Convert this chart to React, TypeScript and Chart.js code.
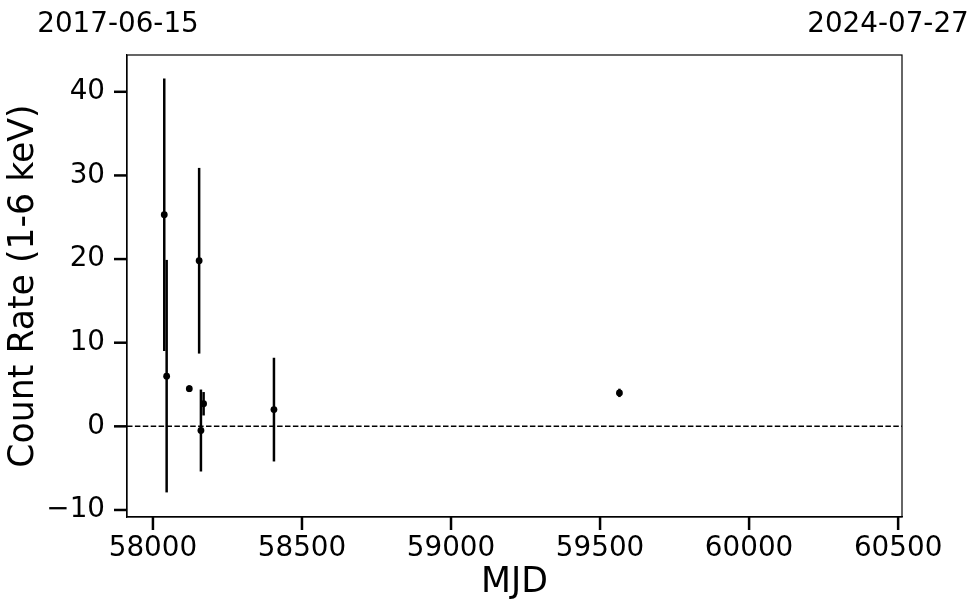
import React, { useEffect, useRef } from "react";
import { Chart, registerables } from "chart.js";

Chart.register(...registerables);

const MJD = [58038, 58046, 58122, 58155, 58161, 58170, 58406, 59565];
const RATE = [25.3, 6.0, 4.5, 19.8, -0.5, 2.7, 2.0, 4.0];
const ERR = [16.3, 13.9, 0.4, 11.1, 4.9, 1.4, 6.2, 0.5];
const X_TICKS = [58000, 58500, 59000, 59500, 60000, 60500];
const Y_TICKS = [-10, 0, 10, 20, 30, 40];
const DATE_LABELS = ["2017-06-15", "2024-07-27"];
const X_RANGE = [57913, 60513];
const Y_RANGE = [-10.84, 44.4];

const FONT = "'DejaVu Sans', sans-serif";
const TICK_LEN = 13;

const overlayPlugin = {
  id: "overlay",
  beforeDatasetsDraw(chart: any) {
    const { ctx, chartArea, scales } = chart;
    const y0 = scales.y.getPixelForValue(0);
    ctx.save();
    ctx.beginPath();
    ctx.rect(chartArea.left, chartArea.top, chartArea.right - chartArea.left, chartArea.bottom - chartArea.top);
    ctx.clip();
    ctx.strokeStyle = "#000";
    ctx.lineWidth = 1.5;
    ctx.setLineDash([5.5, 2.4]);
    ctx.beginPath();
    ctx.moveTo(chartArea.left, y0);
    ctx.lineTo(chartArea.right, y0);
    ctx.stroke();
    ctx.setLineDash([]);
    ctx.lineWidth = 2.5;
    for (let i = 0; i < MJD.length; i++) {
      const x = scales.x.getPixelForValue(MJD[i]);
      const yt = scales.y.getPixelForValue(RATE[i] + ERR[i]);
      const yb = scales.y.getPixelForValue(RATE[i] - ERR[i]);
      ctx.beginPath();
      ctx.moveTo(x, yt);
      ctx.lineTo(x, yb);
      ctx.stroke();
    }
    ctx.restore();
  },
  afterDraw(chart: any) {
    const { ctx, chartArea, scales } = chart;
    ctx.save();
    ctx.strokeStyle = "#000";
    ctx.lineWidth = 1.2;
    ctx.strokeRect(chartArea.left, chartArea.top, chartArea.right - chartArea.left, chartArea.bottom - chartArea.top);
    ctx.lineWidth = 2.5;
    for (const v of X_TICKS) {
      const x = scales.x.getPixelForValue(v);
      ctx.beginPath();
      ctx.moveTo(x, chartArea.bottom);
      ctx.lineTo(x, chartArea.bottom + TICK_LEN);
      ctx.stroke();
    }
    for (const v of Y_TICKS) {
      const y = scales.y.getPixelForValue(v);
      ctx.beginPath();
      ctx.moveTo(chartArea.left, y);
      ctx.lineTo(chartArea.left - TICK_LEN, y);
      ctx.stroke();
    }
    ctx.fillStyle = "#000";
    ctx.font = `27.8px ${FONT}`;
    ctx.textBaseline = "alphabetic";
    ctx.textAlign = "center";
    ctx.fillText(DATE_LABELS[0], 118, 32);
    ctx.fillText(DATE_LABELS[1], 888, 32);
    ctx.restore();
  },
};

export default function App() {
  const ref = useRef<HTMLCanvasElement | null>(null);
  useEffect(() => {
    if (!ref.current) return;
    const chart = new Chart(ref.current, {
      type: "scatter",
      data: {
        datasets: [
          {
            data: MJD.map((m, i) => ({ x: m, y: RATE[i] })),
            backgroundColor: "#000",
            borderColor: "#000",
            pointRadius: 3.4,
            pointHoverRadius: 3.4,
            borderWidth: 0,
          },
        ],
      },
      options: {
        animation: false,
        responsive: false,
        devicePixelRatio: 1,
        layout: { padding: { top: 55, right: 78, left: 0, bottom: 0 } },
        plugins: { legend: { display: false }, tooltip: { enabled: false } },
        scales: {
          x: {
            type: "linear",
            min: X_RANGE[0],
            max: X_RANGE[1],
            afterBuildTicks: (s: any) => {
              s.ticks = X_TICKS.map((v) => ({ value: v }));
            },
            afterFit: (s: any) => {
              s.height = 96;
            },
            grid: {
              drawOnChartArea: false,
              drawTicks: true,
              tickLength: TICK_LEN,
              color: "rgba(0,0,0,0)",
            },
            border: { display: true, color: "#000", width: 1.2 },
            ticks: {
              color: "#000",
              font: { family: FONT, size: 27.8 },
              padding: 2,
              maxRotation: 0,
              autoSkip: false,
              callback: (v: any) => String(v),
            },
            title: {
              display: true,
              text: "MJD",
              color: "#000",
              font: { family: FONT, size: 34.7 },
              padding: { top: 0, bottom: 9 },
            },
          },
          y: {
            type: "linear",
            min: Y_RANGE[0],
            max: Y_RANGE[1],
            afterBuildTicks: (s: any) => {
              s.ticks = Y_TICKS.map((v) => ({ value: v }));
            },
            afterFit: (s: any) => {
              s.width = 127;
            },
            grid: {
              drawOnChartArea: false,
              drawTicks: true,
              tickLength: TICK_LEN,
              color: "rgba(0,0,0,0)",
            },
            border: { display: true, color: "#000", width: 1.2 },
            ticks: {
              color: "#000",
              font: { family: FONT, size: 27.8 },
              padding: 9,
              autoSkip: false,
              callback: (v: any) => String(v).replace("-", "\u2212"),
            },
            title: {
              display: true,
              text: "Count Rate (1-6 keV)",
              color: "#000",
              font: { family: FONT, size: 34.7 },
              padding: { top: 3, bottom: 0 },
            },
          },
        },
      },
      plugins: [overlayPlugin],
    });
    return () => chart.destroy();
  }, []);
  return (
    <div style={{ position: "fixed", left: 0, top: 0, width: 980, height: 613, background: "#fff" }}>
      <canvas ref={ref} width={980} height={613} style={{ width: 980, height: 613 }} />
    </div>
  );
}
